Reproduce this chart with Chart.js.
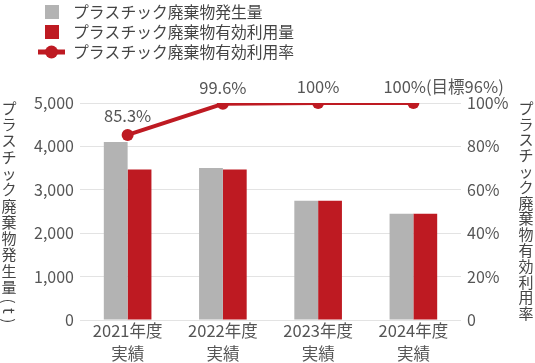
<!DOCTYPE html>
<html>
  <head>
    <meta charset="utf-8" />
    <script src="https://cdn.jsdelivr.net/npm/chart.js"></script>
    <title>プラスチック廃棄物</title>
    <style>
      html, body { margin: 0; padding: 0; background: #fff; }
      #wrap { width: 535px; height: 363px; }
    </style>
  </head>
  <body>
    <div id="wrap"><canvas id="chart"></canvas></div>
    <script>
      // データ
      var years = [["2021年度", "実績"], ["2022年度", "実績"], ["2023年度", "実績"], ["2024年度", "実績"]];
      var generated = [4100, 3500, 2750, 2450];   // 発生量 (t)
      var utilized = [3470, 3470, 2750, 2450];    // 有効利用量 (t)
      var rate = [85.3, 99.6, 100, 100];          // 有効利用率 (%)
      var rateLabels = ["85.3%", "99.6%", "100%", "100%(目標96%)"];
      var leftTicks = [0, 1000, 2000, 3000, 4000, 5000];
      var rightTicks = [0, 20, 40, 60, 80, 100];

      var FONT = '"Noto Sans CJK JP", "Noto Sans", sans-serif';
      var GREY = "#b3b3b3";
      var RED = "#be1a22";
      var TEXT = "#555";

      // 凡例・軸タイトル・データラベル
      var decor = {
        id: "decor",
        afterDraw: function (chart) {
          var ctx = chart.ctx;
          ctx.save();
          ctx.font = "15.8px " + FONT;
          ctx.fillStyle = "#444";
          ctx.textBaseline = "middle";

          // 凡例
          var names = ["プラスチック廃棄物発生量", "プラスチック廃棄物有効利用量", "プラスチック廃棄物有効利用率"];
          var rows = [12, 32, 52];
          ctx.textAlign = "left";
          for (var i = 0; i < 3; i++) {
            ctx.fillStyle = "#444";
            ctx.fillText(names[i], 73, rows[i]);
            if (i === 0) { ctx.fillStyle = GREY; ctx.fillRect(45, rows[i] - 7, 14, 14); }
            if (i === 1) { ctx.fillStyle = RED; ctx.fillRect(45, rows[i] - 7, 14, 14); }
            if (i === 2) {
              ctx.fillStyle = RED;
              ctx.fillRect(38, rows[i] - 2.5, 27, 5);
              ctx.beginPath(); ctx.arc(51.5, rows[i], 6.5, 0, Math.PI * 2); ctx.fill();
            }
          }

          // 縦書き軸タイトル
          ctx.font = "15px " + FONT;
          function vertical(text, x, y0, step) {
            var y = y0;
            for (var k = 0; k < text.length; k++) {
              var c = text[k];
              if (/[()t]/.test(c)) {
                ctx.save();
                ctx.translate(x, y - step * 0.15);
                ctx.rotate(Math.PI / 2);
                ctx.textAlign = "center";
                ctx.fillText(c, 0, 0);
                ctx.restore();
                y += step * 0.6;
              } else {
                ctx.textAlign = "center";
                ctx.fillText(c, x, y);
                y += step;
              }
            }
          }
          ctx.fillStyle = "#444";
          vertical("プラスチック廃棄物発生量(t)", 9, 108, 16.3);
          vertical("プラスチック廃棄物有効利用率", 526, 108, 15.8);

          // 率のラベル
          var meta = chart.getDatasetMeta(2);
          ctx.font = "16.5px " + FONT;
          ctx.fillStyle = TEXT;
          ctx.textBaseline = "alphabetic";
          meta.data.forEach(function (pt, j) {
            var last = j === rateLabels.length - 1;
            ctx.textAlign = last ? "left" : "center";
            var x = last ? pt.x - 30 : pt.x;
            var y = j === 0 ? pt.y - 13 : pt.y - 10;
            ctx.fillText(rateLabels[j], x, y);
          });
          ctx.restore();
        },
      };

      new Chart(document.getElementById("chart"), {
        data: {
          labels: years,
          datasets: [
            { type: "bar", label: "プラスチック廃棄物発生量", data: generated, backgroundColor: GREY, yAxisID: "y", order: 2 },
            { type: "bar", label: "プラスチック廃棄物有効利用量", data: utilized, backgroundColor: RED, yAxisID: "y", order: 2 },
            {
              type: "line", label: "プラスチック廃棄物有効利用率", data: rate, yAxisID: "y1", order: 1,
              borderColor: RED, backgroundColor: RED, borderWidth: 4,
              pointRadius: 6, pointHoverRadius: 6, pointBackgroundColor: RED, pointBorderWidth: 0,
            },
          ],
        },
        options: {
          responsive: true,
          maintainAspectRatio: false,
          animation: false,
          layout: { padding: { top: 103, left: 0, right: 0, bottom: 0 } },
          datasets: { bar: { categoryPercentage: 0.5, barPercentage: 1.0 } },
          plugins: { legend: { display: false }, tooltip: { enabled: false } },
          scales: {
            x: {
              afterFit: function (s) { s.height = 43; },
              grid: { display: false, drawTicks: false },
              border: { display: false },
              ticks: { color: TEXT, font: { family: FONT, size: 16.5, lineHeight: 1.35 }, padding: 0, maxRotation: 0 },
            },
            y: {
              position: "left",
              min: 0, max: 5000,
              afterBuildTicks: function (s) { s.ticks = leftTicks.map(function (v) { return { value: v }; }); },
              afterFit: function (s) { s.width = 80; },
              grid: { color: "#e3e3e3", drawTicks: false },
              border: { display: false },
              ticks: {
                color: TEXT, padding: 6, font: { family: FONT, size: 16 },
                callback: function (v) { return v.toLocaleString("en-US"); },
              },
            },
            y1: {
              position: "right",
              min: 0, max: 100,
              afterBuildTicks: function (s) { s.ticks = rightTicks.map(function (v) { return { value: v }; }); },
              afterFit: function (s) { s.width = 74; },
              grid: { display: false, drawTicks: false },
              border: { display: false },
              ticks: {
                color: TEXT, padding: 6, font: { family: FONT, size: 16 },
                callback: function (v) { return v === 0 ? "0" : v + "%"; },
              },
            },
          },
        },
        plugins: [decor],
      });
    </script>
  </body>
</html>
